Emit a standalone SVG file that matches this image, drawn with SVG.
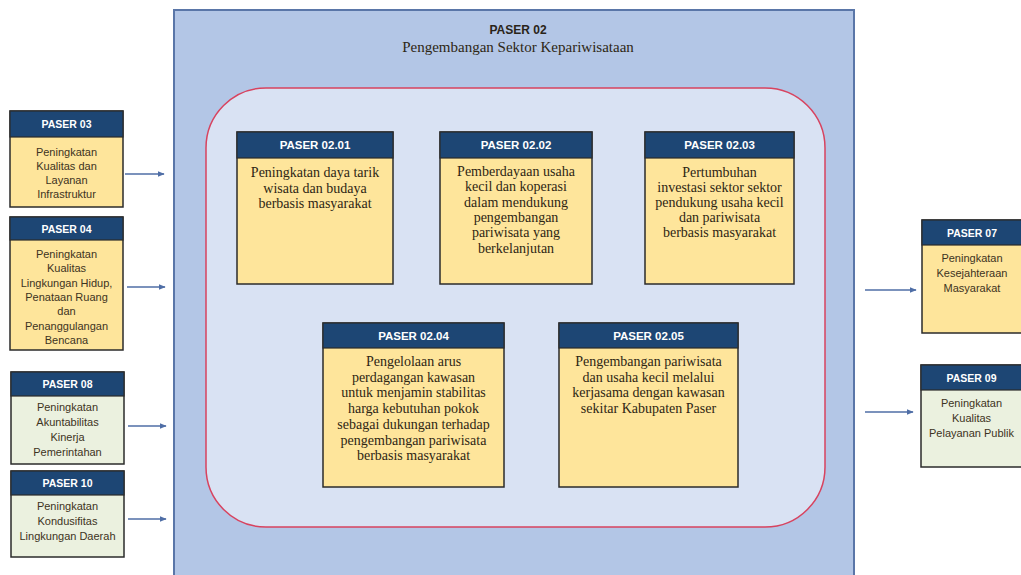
<svg xmlns="http://www.w3.org/2000/svg" width="1021" height="575" viewBox="0 0 1021 575">
  <defs>
    <marker id="arrow" viewBox="0 0 10 10" refX="9" refY="5" markerWidth="7" markerHeight="7" markerUnits="userSpaceOnUse" orient="auto">
      <path d="M0,1 L10,5 L0,9 z" fill="#4f6ea6"/>
    </marker>
  </defs>
  <style>
    .hdr { fill: #1d4674; stroke: #2b2b2b; stroke-width: 1.2; }
    .yel { fill: #fee59b; stroke: #2b2b2b; stroke-width: 1.5; }
    .grn { fill: #ebf1df; stroke: #2b2b2b; stroke-width: 1.5; }
    .htxt { font-family: "Liberation Sans", Arial, sans-serif; font-weight: bold; fill: #ffffff; text-anchor: middle; }
    .stxt { font-family: "Liberation Sans", Arial, sans-serif; font-size: 11px; fill: #3d3322; text-anchor: middle; }
    .btxt { font-family: "Liberation Serif", "Times New Roman", serif; font-size: 14px; fill: #2e2614; text-anchor: middle; }
    .conn { stroke: #4f6ea6; stroke-width: 1.3; fill: none; marker-end: url(#arrow); }
  </style>

  <rect x="0" y="0" width="1021" height="575" fill="#ffffff"/>

  <!-- PASER 02 container -->
  <g id="paser02">
    <rect x="174" y="10" width="680" height="570" fill="#b3c6e6" stroke="#5a76a8" stroke-width="2"/>
    <text x="518" y="34" class="htxt" style="font-size:12px;fill:#2a2418">PASER 02</text>
    <text x="518" y="52" class="btxt" style="font-size:15px">Pengembangan Sektor Kepariwisataan</text>
    <rect x="206" y="88" width="619" height="439" rx="60" ry="60" fill="#d9e2f3" stroke="#d8435f" stroke-width="1.5"/>
  </g>

  <!-- Sub-programmes -->
  <g id="paser0201">
    <rect x="237" y="132" width="156" height="152" class="yel"/>
    <rect x="237" y="132" width="156" height="26" class="hdr"/>
    <text x="315" y="149" class="htxt" font-size="11.5">PASER 02.01</text>
    <text x="315" y="177" class="btxt">Peningkatan daya tarik</text>
    <text x="315" y="192.5" class="btxt">wisata dan budaya</text>
    <text x="315" y="208" class="btxt">berbasis masyarakat</text>
  </g>
  <g id="paser0202">
    <rect x="440" y="132" width="152" height="152" class="yel"/>
    <rect x="440" y="132" width="152" height="26" class="hdr"/>
    <text x="516" y="149" class="htxt" font-size="11.5">PASER 02.02</text>
    <text x="516" y="176" class="btxt">Pemberdayaan usaha</text>
    <text x="516" y="191.3" class="btxt">kecil dan koperasi</text>
    <text x="516" y="206.6" class="btxt">dalam mendukung</text>
    <text x="516" y="221.9" class="btxt">pengembangan</text>
    <text x="516" y="237.2" class="btxt">pariwisata yang</text>
    <text x="516" y="252.5" class="btxt">berkelanjutan</text>
  </g>
  <g id="paser0203">
    <rect x="645" y="132" width="149" height="152" class="yel"/>
    <rect x="645" y="132" width="149" height="26" class="hdr"/>
    <text x="719.5" y="149" class="htxt" font-size="11.5">PASER 02.03</text>
    <text x="719.5" y="177" class="btxt">Pertumbuhan</text>
    <text x="719.5" y="192" class="btxt">investasi sektor sektor</text>
    <text x="719.5" y="207" class="btxt">pendukung usaha kecil</text>
    <text x="719.5" y="222" class="btxt">dan pariwisata</text>
    <text x="719.5" y="237" class="btxt">berbasis masyarakat</text>
  </g>
  <g id="paser0204">
    <rect x="323" y="323" width="181" height="164" class="yel"/>
    <rect x="323" y="323" width="181" height="25" class="hdr"/>
    <text x="413.5" y="340" class="htxt" font-size="11.5">PASER 02.04</text>
    <text x="413.5" y="366" class="btxt">Pengelolaan arus</text>
    <text x="413.5" y="381.7" class="btxt">perdagangan kawasan</text>
    <text x="413.5" y="397.4" class="btxt">untuk menjamin stabilitas</text>
    <text x="413.5" y="413.1" class="btxt">harga kebutuhan pokok</text>
    <text x="413.5" y="428.8" class="btxt">sebagai dukungan terhadap</text>
    <text x="413.5" y="444.5" class="btxt">pengembangan pariwisata</text>
    <text x="413.5" y="460.2" class="btxt">berbasis masyarakat</text>
  </g>
  <g id="paser0205">
    <rect x="559" y="323" width="179" height="164" class="yel"/>
    <rect x="559" y="323" width="179" height="25" class="hdr"/>
    <text x="648.5" y="340" class="htxt" font-size="11.5">PASER 02.05</text>
    <text x="648.5" y="366" class="btxt">Pengembangan pariwisata</text>
    <text x="648.5" y="381.5" class="btxt">dan usaha kecil melalui</text>
    <text x="648.5" y="397" class="btxt">kerjasama dengan kawasan</text>
    <text x="648.5" y="412.5" class="btxt">sekitar Kabupaten Paser</text>
  </g>

  <!-- Left-hand programmes -->
  <g id="paser03">
    <rect x="10" y="111" width="113" height="96" class="yel"/>
    <rect x="10" y="111" width="113" height="26" class="hdr"/>
    <text x="66.5" y="128" class="htxt" font-size="10.5">PASER 03</text>
    <text x="66.5" y="156" class="stxt">Peningkatan</text>
    <text x="66.5" y="170" class="stxt">Kualitas dan</text>
    <text x="66.5" y="184" class="stxt">Layanan</text>
    <text x="66.5" y="198" class="stxt">Infrastruktur</text>
  </g>
  <g id="paser04">
    <rect x="10" y="217" width="113" height="133" class="yel"/>
    <rect x="10" y="217" width="113" height="23" class="hdr"/>
    <text x="66.5" y="232.5" class="htxt" font-size="10.5">PASER 04</text>
    <text x="66.5" y="258" class="stxt">Peningkatan</text>
    <text x="66.5" y="272.3" class="stxt">Kualitas</text>
    <text x="66.5" y="286.6" class="stxt">Lingkungan Hidup,</text>
    <text x="66.5" y="300.9" class="stxt">Penataan Ruang</text>
    <text x="66.5" y="315.2" class="stxt">dan</text>
    <text x="66.5" y="329.5" class="stxt">Penanggulangan</text>
    <text x="66.5" y="343.8" class="stxt">Bencana</text>
  </g>
  <g id="paser08">
    <rect x="11" y="372" width="113" height="92" class="grn"/>
    <rect x="11" y="372" width="113" height="24" class="hdr"/>
    <text x="67.5" y="388" class="htxt" font-size="10.5">PASER 08</text>
    <text x="67.5" y="411" class="stxt">Peningkatan</text>
    <text x="67.5" y="426" class="stxt">Akuntabilitas</text>
    <text x="67.5" y="441" class="stxt">Kinerja</text>
    <text x="67.5" y="456" class="stxt">Pemerintahan</text>
  </g>
  <g id="paser10">
    <rect x="11" y="471" width="113" height="86" class="grn"/>
    <rect x="11" y="471" width="113" height="24" class="hdr"/>
    <text x="67.5" y="487" class="htxt" font-size="10.5">PASER 10</text>
    <text x="67.5" y="510" class="stxt">Peningkatan</text>
    <text x="67.5" y="525" class="stxt">Kondusifitas</text>
    <text x="67.5" y="540" class="stxt">Lingkungan Daerah</text>
  </g>

  <!-- Right-hand programmes -->
  <g id="paser07">
    <rect x="922" y="220" width="104" height="113" class="yel"/>
    <rect x="922" y="220" width="104" height="25" class="hdr"/>
    <text x="972" y="236.5" class="htxt" font-size="10.5">PASER 07</text>
    <text x="972" y="262" class="stxt">Peningkatan</text>
    <text x="972" y="277" class="stxt">Kesejahteraan</text>
    <text x="972" y="292" class="stxt">Masyarakat</text>
  </g>
  <g id="paser09">
    <rect x="921" y="365" width="105" height="102" class="grn"/>
    <rect x="921" y="365" width="105" height="25" class="hdr"/>
    <text x="971.5" y="381.5" class="htxt" font-size="10.5">PASER 09</text>
    <text x="971.5" y="407" class="stxt">Peningkatan</text>
    <text x="971.5" y="422" class="stxt">Kualitas</text>
    <text x="971.5" y="437" class="stxt">Pelayanan Publik</text>
  </g>

  <!-- Connectors -->
  <g id="connectors">
    <line x1="125" y1="174" x2="164" y2="174" class="conn"/>
    <line x1="127" y1="287" x2="165" y2="287" class="conn"/>
    <line x1="128" y1="426" x2="166" y2="426" class="conn"/>
    <line x1="128" y1="519" x2="166" y2="519" class="conn"/>
    <line x1="865" y1="290" x2="916" y2="290" class="conn"/>
    <line x1="865" y1="412" x2="913" y2="412" class="conn"/>
  </g>
</svg>
